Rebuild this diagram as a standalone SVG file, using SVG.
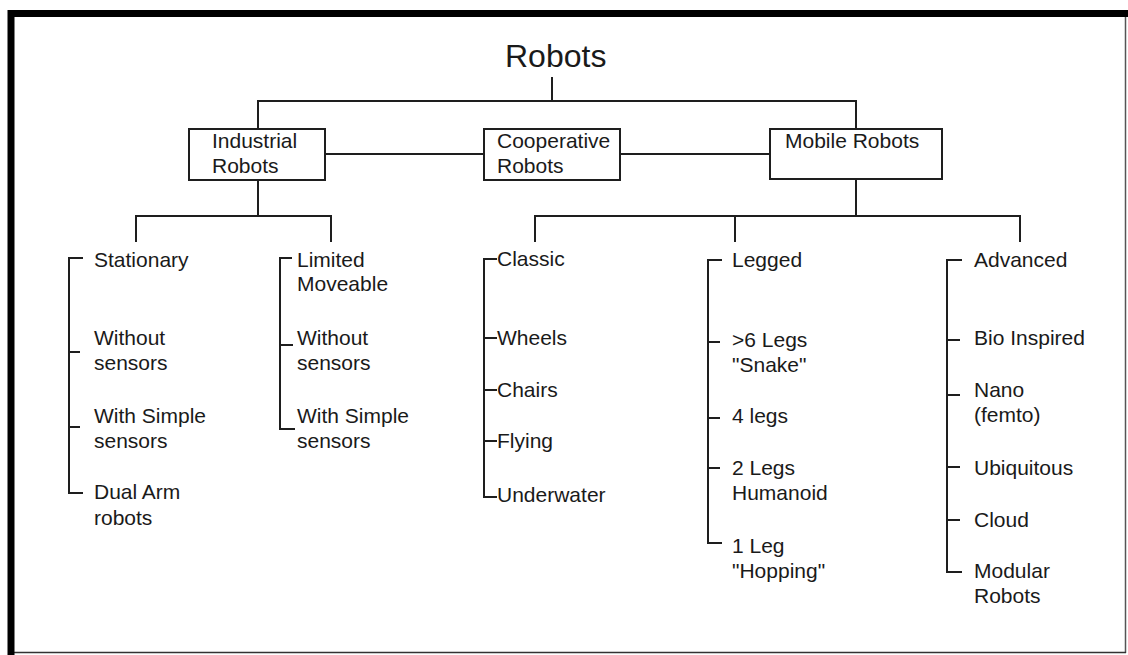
<svg xmlns="http://www.w3.org/2000/svg" width="1128" height="655" viewBox="0 0 1128 655">
  <style>
    .ln { fill: none; stroke: #1e1e1e; stroke-width: 2; }
    .box { fill: #ffffff; stroke: #1e1e1e; stroke-width: 2; }
    text { font-family: "Liberation Sans", Arial, sans-serif; font-size: 21px; fill: #1a1a1a; }
    .title { font-size: 32px; }
  </style>
  <rect x="0" y="0" width="1128" height="655" fill="#ffffff"/>
  <!-- frame: heavy top and left edges, hairline right and bottom -->
  <g id="frame">
    <line x1="1125.5" y1="14" x2="1125.5" y2="653" stroke="#555" stroke-width="1.5"/>
    <line x1="11" y1="652.5" x2="1126" y2="652.5" stroke="#333" stroke-width="1.5"/>
    <line x1="8" y1="13.5" x2="1128" y2="13.5" stroke="#000" stroke-width="7"/>
    <line x1="11" y1="10" x2="11" y2="655" stroke="#000" stroke-width="7"/>
  </g>

  <g id="connectors" class="ln">
    <!-- root to first level -->
    <path d="M552 77 V101 M258 129 V101 H856 V129"/>
    <path d="M325 154 H484 M620 154 H770"/>
    <!-- industrial branch -->
    <path d="M258 180 V216 M136 242 V216 H331 V242"/>
    <!-- mobile branch -->
    <path d="M856 179 V216 M535 242 V216 H1020 V242 M735 216 V242"/>
    <!-- stationary bracket -->
    <path d="M83 258 H69 V493 H83 M69 352 H80 M69 427 H80"/>
    <!-- limited moveable bracket -->
    <path d="M292 258 H280 V429 H295 M280 345 H293"/>
    <!-- classic bracket -->
    <path d="M497 259 H484 V497 H497 M484 338 H497 M484 390 H497 M484 441 H497"/>
    <!-- legged bracket -->
    <path d="M722 260 H708 V543 H722 M708 342 H720 M708 418 H720 M708 468 H720"/>
    <!-- advanced bracket -->
    <path d="M962 260 H947 V572 H962 M947 340 H960 M947 395 H960 M947 467 H960 M947 520 H960"/>
  </g>

  <g id="root">
    <text class="title" x="505" y="67">Robots</text>
  </g>

  <g id="industrial">
    <rect class="box" x="189" y="129" width="136" height="51"/>
    <text x="212" y="148">Industrial</text>
    <text x="212" y="173">Robots</text>
  </g>
  <g id="cooperative">
    <rect class="box" x="484" y="129" width="136" height="51"/>
    <text x="497" y="148">Cooperative</text>
    <text x="497" y="173">Robots</text>
  </g>
  <g id="mobile">
    <rect class="box" x="770" y="129" width="172" height="50"/>
    <text x="785" y="148">Mobile Robots</text>
  </g>

  <g id="stationary">
    <text x="94" y="267">Stationary</text>
    <text x="94" y="345">Without</text>
    <text x="94" y="370">sensors</text>
    <text x="94" y="423">With Simple</text>
    <text x="94" y="448">sensors</text>
    <text x="94" y="499">Dual Arm</text>
    <text x="94" y="525">robots</text>
  </g>

  <g id="limited-moveable">
    <text x="297" y="267">Limited</text>
    <text x="297" y="291">Moveable</text>
    <text x="297" y="345">Without</text>
    <text x="297" y="370">sensors</text>
    <text x="297" y="423">With Simple</text>
    <text x="297" y="448">sensors</text>
  </g>

  <g id="classic">
    <text x="497" y="266">Classic</text>
    <text x="497" y="345">Wheels</text>
    <text x="497" y="397">Chairs</text>
    <text x="497" y="448">Flying</text>
    <text x="497" y="502">Underwater</text>
  </g>

  <g id="legged">
    <text x="732" y="267">Legged</text>
    <text x="732" y="347">&gt;6 Legs</text>
    <text x="732" y="372">"Snake"</text>
    <text x="732" y="423">4 legs</text>
    <text x="732" y="475">2 Legs</text>
    <text x="732" y="500">Humanoid</text>
    <text x="732" y="553">1 Leg</text>
    <text x="732" y="578">"Hopping"</text>
  </g>

  <g id="advanced">
    <text x="974" y="267">Advanced</text>
    <text x="974" y="345">Bio Inspired</text>
    <text x="974" y="397">Nano</text>
    <text x="974" y="422">(femto)</text>
    <text x="974" y="475">Ubiquitous</text>
    <text x="974" y="527">Cloud</text>
    <text x="974" y="578">Modular</text>
    <text x="974" y="603">Robots</text>
  </g>
</svg>
